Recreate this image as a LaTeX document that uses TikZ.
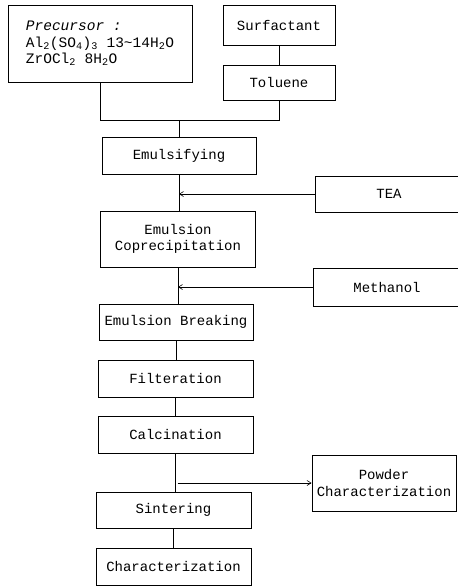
\documentclass[tikz,border=0pt]{standalone}
\usepackage{fontspec}
\setmonofont{Liberation Mono}
\usetikzlibrary{arrows.meta}
\newcommand{\sbs}[1]{\textsubscript{#1}}
\begin{document}
\begin{tikzpicture}[x=1pt,y=1pt,
  box/.style={draw, line width=0.9pt, inner sep=2pt, align=center,
    font=\ttfamily\fontsize{14}{16.5}\selectfont},
  link/.style={draw, line width=0.9pt},
  feed/.style={draw, line width=0.6pt, -{Straight Barb[length=4pt,width=5pt]}}]
\useasboundingbox (0,0) rectangle (458,-587);
\node[box, minimum width=184, minimum height=77, align=left, inner sep=1pt,
  font=\ttfamily\fontsize{14.5}{16.5}\selectfont] (pre) at (100,-43.5)
  {{\itshape Precursor :}\\Al\sbs{2}(SO\sbs{4})\sbs{3} 13\textasciitilde14H\sbs{2}O\\ZrOCl\sbs{2} 8H\sbs{2}O};
\node[box, minimum width=112, minimum height=40] (surf) at (279,-25) {Surfactant};
\node[box, minimum width=112, minimum height=35] (tol) at (279,-82.5) {Toluene};
\node[box, minimum width=154, minimum height=37] (emul) at (179,-155.5) {Emulsifying};
\node[box, minimum width=155, minimum height=56] (cop) at (178,-239) {Emulsion\\Coprecipitation};
\node[box, minimum width=148, minimum height=36] (tea) at (389,-194) {TEA};
\node[box, minimum width=148, minimum height=38] (meth) at (387,-287) {Methanol};
\node[box, minimum width=154, minimum height=36] (brk) at (176,-322) {Emulsion Breaking};
\node[box, minimum width=155, minimum height=37] (fil) at (175.5,-378.5) {Filteration};
\node[box, minimum width=155, minimum height=37] (cal) at (175.5,-434.5) {Calcination};
\node[box, minimum width=144, minimum height=56] (pow) at (384,-483) {Powder\\Characterization};
\node[box, minimum width=155, minimum height=36] (sin) at (173.5,-510) {Sintering};
\node[box, minimum width=155, minimum height=37] (cha) at (173.5,-566.5) {Characterization};
\coordinate (j) at (179,-120);
\draw[link] (surf) -- (tol);
\draw[link] (pre.south) |- (tol.south |- j) -- (tol.south);
\draw[link] (j) -- (emul.north);
\draw[link] (emul.south) -- (emul.south |- cop.north);
\draw[link] (cop.south) -- (cop.south |- brk.north);
\draw[link] (brk.south) -- (brk.south |- fil.north);
\draw[link] (fil.south) -- (fil.south |- cal.north);
\draw[link] (cal.south) -- (cal.south |- sin.north);
\draw[link] (sin.south) -- (sin.south |- cha.north);
\draw[feed] (tea.west) -- (tea.west -| emul.south);
\draw[feed] (meth.west) -- (meth.west -| cop.south);
\coordinate (ps) at ([xshift=2pt]cal.south |- pow.west);
\draw[feed] (ps) -- (pow.west);
\end{tikzpicture}
\end{document}
